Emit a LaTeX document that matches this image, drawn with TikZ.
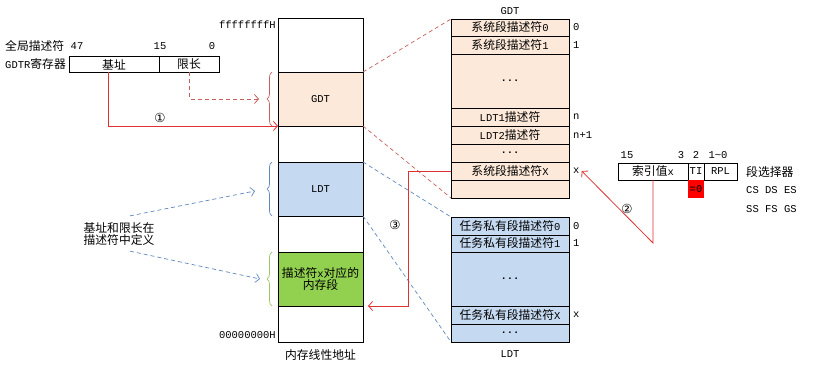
\documentclass[tikz,border=0pt]{standalone}
\usepackage{fontspec}
\setmainfont{Liberation Mono}
\newfontfamily\cjk{Noto Sans CJK SC}
\newfontfamily\symf{DejaVu Sans}
\usepackage{tikz}
\usetikzlibrary{arrows.meta,decorations.pathreplacing,positioning}
\definecolor{gdtfill}{RGB}{253,233,217}
\definecolor{ldtfill}{RGB}{197,217,241}
\definecolor{segfill}{RGB}{146,208,80}
\definecolor{redline}{RGB}{222,50,50}
\definecolor{reddash}{RGB}{196,96,92}
\definecolor{bluedash}{RGB}{96,136,190}
\definecolor{greenbrace}{RGB}{155,200,100}
\newcommand{\hanzi}[1]{{\cjk\fontsize{11.8}{14.5}\selectfont #1}}
\tikzstyle{cell}=[draw=black, line width=0.8pt, inner sep=0pt, outer sep=0pt,
        font=\fontsize{10.5}{12}\selectfont, align=center]
\tikzstyle{mem cell}=[cell, minimum width=85pt]
\tikzstyle{gdt row}=[cell, fill=gdtfill, minimum width=118pt]
\tikzstyle{ldt row}=[cell, fill=ldtfill, minimum width=118pt]
\tikzstyle{label}=[inner sep=0pt, font=\fontsize{10.5}{12}\selectfont, align=center]
\tikzstyle{num}=[inner sep=0pt, font=\symf\fontsize{12.5}{13}\selectfont]
\tikzstyle{red edge}=[-{Straight Barb[length=4pt,width=9pt]}, draw=redline, line width=0.8pt]
\tikzstyle{red dash}=[-, draw=reddash, line width=0.7pt, dash pattern=on 4pt off 3pt]
\tikzstyle{blue dash}=[-, draw=bluedash, line width=0.7pt, dash pattern=on 4pt off 3pt]
\tikzstyle{brace edge}=[line width=0.7pt, decorate, decoration={brace, amplitude=5pt}]
\begin{document}
\begin{tikzpicture}[x=1pt, y=-1pt]
    \useasboundingbox (0,0) rectangle (821,374);

    % linear memory
    \node [style=mem cell, minimum height=54pt] (m0) at (320.5, 45) {};
    \node [style=mem cell, minimum height=54pt, fill=gdtfill] (gdt) at (320.5, 99) {GDT};
    \node [style=mem cell, minimum height=36pt] (m1) at (320.5, 144) {};
    \node [style=mem cell, minimum height=54pt, fill=ldtfill] (ldt) at (320.5, 189) {LDT};
    \node [style=mem cell, minimum height=36pt] (m2) at (320.5, 234) {};
    \node [style=mem cell, minimum height=54pt, fill=segfill] (seg) at (320.5, 279)
        {\hanzi{描述符}x\hanzi{对应的}\\\hanzi{内存段}};
    \node [style=mem cell, minimum height=36pt] (m3) at (320.5, 324) {};
    \node [style=label, anchor=east] (top) at (276, 25) {ffffffffH};
    \node [style=label, anchor=east] (bottom) at (276, 335) {00000000H};
    \node [style=label] (memname) at (320.5, 355) {\hanzi{内存线性地址}};

    % GDTR register
    \node [style=cell, minimum width=90pt, minimum height=16pt] (base) at (114, 64.5) {\hanzi{基址}};
    \node [style=cell, minimum width=60pt, minimum height=16pt] (limit) at (189, 64.5) {\hanzi{限长}};
    \node [style=label, anchor=west] (gdtr1) at (5, 46) {\hanzi{全局描述符}};
    \node [style=label, anchor=west] (gdtr2) at (5, 64) {GDTR\hanzi{寄存器}};
    \node [style=label] (b47) at (77, 46) {47};
    \node [style=label] (b15) at (160, 46) {15};
    \node [style=label] (b0) at (212, 46) {0};

    % GDT table
    \node [style=label] (gdtname) at (510, 11) {GDT};
    \node [style=gdt row, minimum height=17pt] (g0) at (510, 27.5) {\hanzi{系统段描述符}0};
    \node [style=gdt row, minimum height=18pt] (g1) at (510, 45) {\hanzi{系统段描述符}1};
    \node [style=gdt row, minimum height=54pt] (g2) at (510, 81) {\textbf{...}};
    \node [style=gdt row, minimum height=18pt] (g3) at (510, 117) {LDT1\hanzi{描述符}};
    \node [style=gdt row, minimum height=18pt] (g4) at (510, 135) {LDT2\hanzi{描述符}};
    \node [style=gdt row, minimum height=18pt] (g5) at (510, 153) {\textbf{...}};
    \node [style=gdt row, minimum height=18pt] (g6) at (510, 171) {\hanzi{系统段描述符}X};
    \node [style=gdt row, minimum height=18pt] (g7) at (510, 189) {};
    \node [style=label, anchor=west] (g0i) at (573, 27.5) {0};
    \node [style=label, anchor=west] (g1i) at (573, 45) {1};
    \node [style=label, anchor=west] (g3i) at (573, 117) {n};
    \node [style=label, anchor=west] (g4i) at (573, 135) {n+1};
    \node [style=label, anchor=west] (g6i) at (573, 171) {x};

    % LDT table
    \node [style=ldt row, minimum height=18pt] (l0) at (510, 226) {\hanzi{任务私有段描述符}0};
    \node [style=ldt row, minimum height=17pt] (l1) at (510, 243.5) {\hanzi{任务私有段描述符}1};
    \node [style=ldt row, minimum height=54pt] (l2) at (510, 279) {\textbf{...}};
    \node [style=ldt row, minimum height=18pt] (l3) at (510, 315) {\hanzi{任务私有段描述符}X};
    \node [style=ldt row, minimum height=18pt] (l4) at (510, 333) {\textbf{...}};
    \node [style=label] (ldtname) at (510, 354) {LDT};
    \node [style=label, anchor=west] (l0i) at (573, 226) {0};
    \node [style=label, anchor=west] (l1i) at (573, 243.5) {1};
    \node [style=label, anchor=west] (l3i) at (573, 315) {x};

    % segment selector
    \node [style=cell, minimum width=70pt, minimum height=17pt] (index) at (653, 171.5) {\hanzi{索引值}x};
    \node [style=cell, minimum width=16pt, minimum height=17pt] (ti) at (696, 171.5) {TI};
    \node [style=cell, minimum width=33pt, minimum height=17pt] (rpl) at (720.5, 171.5) {RPL};
    \node [style=cell, draw=none, fill=red, minimum width=16pt, minimum height=18pt,
        font=\bfseries\fontsize{10.5}{12}\selectfont, text={rgb,255: red,70; green,0; blue,0}] (ti0) at (696, 189) {=0};
    \node [style=label] (s15) at (627, 155) {15};
    \node [style=label] (s3) at (681, 155) {3};
    \node [style=label] (s2) at (696, 155) {2};
    \node [style=label] (s10) at (718, 155) {1\textasciitilde0};
    \node [style=label, anchor=west] (selname) at (746, 172) {\hanzi{段选择器}};
    \node [style=label, anchor=west] (sreg1) at (746, 190) {CS DS ES};
    \node [style=label, anchor=west] (sreg2) at (746, 209) {SS FS GS};

    % note
    \node [style=label, align=left] (note) at (119, 234.5) {\hanzi{基址和限长在}\\\hanzi{描述符中定义}};

    \node [style=num] (n1) at (160, 118) {①};
    \node [style=num] (n2) at (627, 209) {②};
    \node [style=num] (n3) at (395, 225) {③};

    \coordinate (c1) at (108, 0);
    \coordinate (c2) at (653, 243);
    \coordinate (c3) at (408, 306);
    \coordinate (gdttip) at (259, 99);
    \coordinate (ldttip) at (255, 191);
    \coordinate (segtip) at (260, 279);

    % braces
    \draw [style=brace edge, draw=reddash] ([xshift=-6pt]gdt.south west) -- ([xshift=-6pt]gdt.north west);
    \draw [style=brace edge, draw=bluedash] ([xshift=-6pt]ldt.south west) -- ([xshift=-6pt]ldt.north west);
    \draw [style=brace edge, draw=greenbrace] ([xshift=-6pt]seg.south west) -- ([xshift=-6pt]seg.north west);

    % projections of the tables
    \draw [style=red dash] (gdt.north east) to (g0.north west);
    \draw [style=red dash] (gdt.south east) to (g7.south west);
    \draw [style=blue dash] (ldt.north east) to (l0.north west);
    \draw [style=blue dash] (ldt.south east) to (l4.south west);

    \draw [style=red edge] (base.south -| c1) |- (gdt.south west);
    \draw [style=red edge, dash pattern=on 4pt off 3pt, draw=reddash] (limit.south) |- (gdttip);
    \draw [style=blue dash, -{Straight Barb[length=4pt,width=9pt]}] ([xshift=11pt,yshift=7pt]note.north) to (ldttip);
    \draw [style=blue dash, -{Straight Barb[length=4pt,width=9pt]}] ([xshift=11pt,yshift=-5pt]note.south) to (segtip);
    \draw [style=red edge] (index.south) -- (c2) -- ([xshift=2pt]g6i.east);
    \draw [style=red edge, shorten >=5pt] (g6.west) -| (c3) -- (seg.south east);
\end{tikzpicture}
\end{document}
